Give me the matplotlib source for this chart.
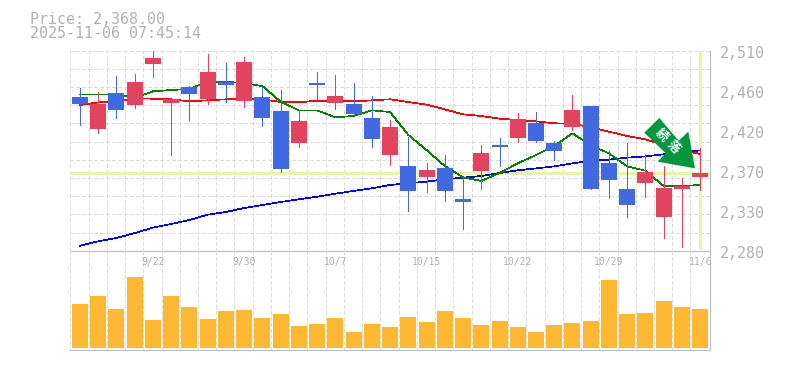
import matplotlib
matplotlib.use("Agg")
import matplotlib.pyplot as plt
from matplotlib.patches import Polygon

plt.rcParams['font.family'] = ['DejaVu Sans Mono']

W, H = 785, 370
GRAY = '#BCBCBC'
TEXT = '#B2B2B2'
GRID = '#DCDCDC'
RED = '#E2435F'
BLUE = '#4169E1'
GUIDE = '#E6F5A8'

opens = [2456.7, 2420.0, 2461.3, 2447.5, 2494.7, 2449.9, 2468.3, 2454.4, 2474.0, 2452.2, 2456.7, 2440.7,
         2403.9, 2472.8, 2449.9, 2448.7, 2432.6, 2390.0, 2377.4, 2364.7, 2375.1, 2339.5, 2371.6, 2401.6,
         2409.6, 2426.9, 2403.9, 2422.3, 2446.4, 2380.9, 2350.9, 2357.9, 2318.8, 2350.9, 2364.7]
closes = [2448.7, 2448.7, 2441.8, 2474.0, 2501.6, 2454.4, 2460.2, 2485.5, 2470.5, 2497.0, 2432.6, 2373.9,
          2429.2, 2470.5, 2457.9, 2437.2, 2408.5, 2422.3, 2348.7, 2372.8, 2348.7, 2336.0, 2392.4, 2399.2,
          2431.5, 2406.2, 2394.7, 2441.8, 2350.9, 2361.3, 2332.6, 2370.5, 2352.1, 2354.4, 2369.3]
highs = [2467.1, 2462.5, 2480.9, 2483.2, 2509.7, 2454.4, 2469.4, 2506.2, 2495.9, 2502.8, 2469.4, 2464.8,
         2441.8, 2485.5, 2482.0, 2472.8, 2457.9, 2430.3, 2410.7, 2380.9, 2390.0, 2364.7, 2401.6, 2409.6,
         2438.3, 2439.5, 2406.2, 2459.0, 2446.4, 2394.7, 2403.9, 2391.2, 2377.4, 2363.6, 2398.1]
lows = [2424.5, 2415.3, 2432.6, 2444.1, 2479.7, 2390.0, 2430.3, 2448.7, 2451.0, 2445.3, 2423.4, 2370.5,
        2399.2, 2453.3, 2442.9, 2436.0, 2399.2, 2378.5, 2325.7, 2347.5, 2337.2, 2305.0, 2350.9, 2377.4,
        2405.0, 2405.0, 2384.3, 2418.8, 2350.9, 2340.6, 2318.8, 2341.8, 2294.6, 2284.3, 2349.8]

ma_red = [2447.5, 2450.6, 2451.8, 2455.2, 2454.8, 2454.1, 2451.8, 2452.9, 2454.1, 2455.2, 2454.1, 2451.0,
          2450.6, 2452.5, 2452.2, 2451.8, 2452.9, 2454.1, 2451.0, 2447.9, 2442.6, 2436.8, 2434.9, 2431.8,
          2430.3, 2428.8, 2426.5, 2426.1, 2421.9, 2416.9, 2411.9, 2408.1, 2401.6, 2395.8, 2391.2]
ma_green = [2459.8, 2459.8, 2459.8, 2455.6, 2463.3, 2464.8, 2466.0, 2474.4, 2474.4, 2472.5, 2469.4, 2451.4,
            2441.4, 2441.4, 2433.4, 2434.9, 2441.4, 2439.5, 2413.1, 2395.8, 2377.4, 2364.4, 2360.2, 2369.3,
            2380.5, 2390.0, 2400.4, 2415.0, 2401.2, 2392.0, 2377.0, 2372.0, 2354.4, 2354.4, 2355.6]
ma_blue = [2285.8, 2290.8, 2294.6, 2300.3, 2306.5, 2310.7, 2315.3, 2321.4, 2324.5, 2329.1, 2332.6, 2336.0,
           2339.1, 2342.1, 2345.6, 2348.7, 2351.7, 2355.6, 2357.5, 2359.4, 2362.1, 2364.0, 2365.9, 2369.3,
           2372.4, 2374.7, 2377.0, 2380.5, 2383.2, 2384.7, 2387.0, 2388.5, 2390.8, 2393.1, 2395.4]

volumes = [44, 52, 39, 71, 28, 52, 41, 29, 37, 38, 30, 34, 22, 24, 30, 16, 24, 21,
           31, 26, 37, 30, 23, 27, 21, 16, 23, 25, 27, 68, 34, 35, 47, 41, 39]

price_labels = ['2,280', '2,330', '2,370', '2,420', '2,460', '2,510']
price_ticks = [2280, 2326, 2372, 2418, 2464, 2510]
date_idx = [4, 9, 14, 19, 24, 29, 34]
date_labels = ['9/22', '9/30', '10/7', '10/15', '10/22', '10/29', '11/6']
guide_price = 2369
last_idx = 34

fig = plt.figure(figsize=(W / 100, H / 100), dpi=100)


def add_axes_px(left, top, right, bottom):
    return fig.add_axes([left / W, 1 - bottom / H, (right - left) / W, (bottom - top) / H])


ax = add_axes_px(70.3, 50.7, 710, 250.7)
ax_vol = add_axes_px(70.3, 250.7, 710, 350)

n = len(opens)
for a in (ax, ax_vol):
    a.patch.set_visible(False)
    a.set_xlim(-0.53, 34.54)
    a.set_xticks([k - 0.53 for k in range(n)])
    a.tick_params(left=False, bottom=False, labelleft=False, labelbottom=False)
    a.grid(axis='x', color=GRID, lw=0.72, ls=(0, (4, 2.5)), antialiased=False)
    a.set_axisbelow(True)
    for side in ('left', 'top'):
        a.spines[side].set_visible(False)
    for side in ('right', 'bottom'):
        a.spines[side].set_color(GRAY)
        a.spines[side].set_linewidth(0.8)

ax.set_ylim(2280, 2510)
ax.set_yticks([2280 + k * 230 / 11 for k in range(1, 12)])
ax.grid(axis='y', color=GRID, lw=0.72, ls=(0, (4, 2.5)), antialiased=False)
ax_vol.set_ylim(-2, 97.3)

# guides for the latest price
ax.axhline(guide_price, color=GUIDE, lw=2.2, zorder=1.5)
ax.plot([last_idx, last_idx], [2281.5, 2510], color=GUIDE, lw=2.2, zorder=1.5, solid_capstyle='butt')

xs = list(range(n))
ax.plot(xs, ma_blue, color='#0000FF', lw=0.5, zorder=2, antialiased=False)
ax.plot(xs, ma_red, color='#FF0000', lw=0.5, zorder=2, antialiased=False)
ax.plot(xs, ma_green, color='#008000', lw=0.5, zorder=2, antialiased=False)

for i in range(n):
    c = RED if closes[i] >= opens[i] else BLUE
    ax.plot([i, i], [lows[i], highs[i]], color=c, lw=0.72, zorder=3, solid_capstyle='butt', antialiased=False)
    ax.bar(i, abs(closes[i] - opens[i]), bottom=min(opens[i], closes[i]), width=0.877, color=c, zorder=3)

ax_vol.bar(xs, volumes, width=0.877, color='#FFB833', zorder=3)

for v, s in zip(price_ticks, price_labels):
    ax.annotate(s, (1, v), xycoords=('axes fraction', 'data'), xytext=(10, -3), textcoords='offset pixels',
                fontsize=10.8, color=TEXT, ha='left', va='center', annotation_clip=False)

for i, s in zip(date_idx, date_labels):
    ax_vol.annotate(s, (i, 1), xycoords=('data', 'axes fraction'), xytext=(0, -11), textcoords='offset pixels',
                    fontsize=7, color=TEXT, ha='center', va='center', annotation_clip=False, zorder=6)

fig.text(30 / W, 1 - 19 / H, 'Price: 2,368.00', fontsize=10.8, color=TEXT, ha='left', va='center')
fig.text(30 / W, 1 - 34 / H, '2025-11-06 07:45:14', fontsize=10.8, color=TEXT, ha='left', va='center')

# signal arrow, outline in pixels from the top left
arrow_px = [(659.3, 118), (644.3, 132.7), (665.7, 153.3), (657.7, 161.7), (695, 168.3), (688.3, 131.7), (678.7, 140.7)]
arrow = Polygon([(x / W, 1 - y / H) for x, y in arrow_px], closed=True, transform=fig.transFigure,
                facecolor='#00963F', edgecolor='none', zorder=10)
fig.add_artist(arrow)
for cx, cy, ch in [(661.5, 135, '続'), (673, 147, '落')]:
    fig.text(cx / W, 1 - cy / H, ch, family=['Noto Sans CJK JP', 'DejaVu Sans'], fontsize=9, fontweight='bold',
             color='white', rotation=-45, rotation_mode='anchor', ha='center', va='center', zorder=11)

fig.savefig('out.png', dpi=100)
